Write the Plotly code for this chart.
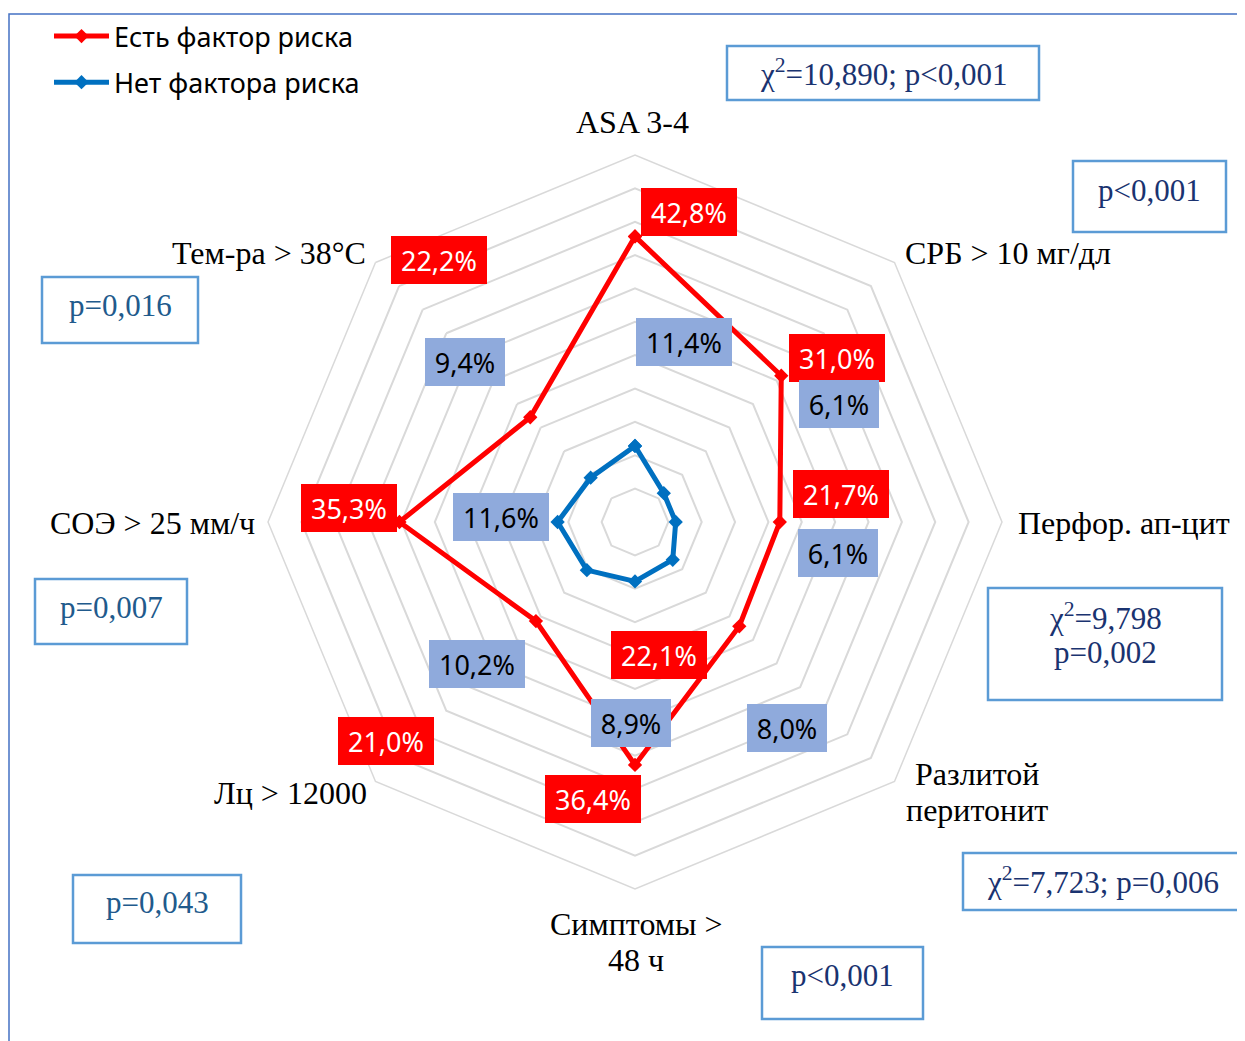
import plotly.graph_objects as go

W, H = 1245, 1041
PAGE_OFFSET = 8  # the page body margin shifts the figure by this many pixels

CATEGORIES = [
    "ASA 3-4", "СРБ > 10 мг/дл", "Перфор. ап-цит", "Разлитой перитонит",
    "Симптомы > 48 ч", "Лц > 12000", "СОЭ > 25 мм/ч", "Тем-ра > 38°С",
]
RISK_YES = [42.8, 31.0, 21.7, 22.1, 36.4, 21.0, 35.3, 22.2]
RISK_NO = [11.4, 6.1, 6.1, 8.0, 8.9, 10.2, 11.6, 9.4]
SERIES_NAMES = ["Есть фактор риска", "Нет фактора риска"]

STATS = [
    "χ<sup>2</sup>=10,890; p&lt;0,001",
    "p&lt;0,001",
    "χ<sup>2</sup>=9,798<br>p=0,002",
    "χ<sup>2</sup>=7,723; p=0,006",
    "p&lt;0,001",
    "p=0,043",
    "p=0,007",
    "p=0,016",
]

RED = "#FF0000"
BLUE = "#0070C0"
LABEL_BLUE = "#8FAADC"
GRID = "#D9D9D9"
BOX_LINE = "#5B9BD5"
NAVY = "#1A3370"
STEEL = "#215A8C"
SERIF = "Liberation Serif"
SANS = "Noto Sans"

# label placement in pixels of the target picture (centre x, centre y)
CAT_POS = [(632, 122), (1008, 253), (1124, 523), (977, 792),
           (636, 942), (290, 793), (152, 523), (269, 253)]
CAT_TEXT = ["ASA 3-4", "СРБ &gt; 10 мг/дл", "Перфор. ап-цит", "Разлитой<br>перитонит",
            "Симптомы &gt;<br>48 ч", "Лц &gt; 12000", "СОЭ &gt; 25 мм/ч", "Тем-ра &gt; 38°С"]
RED_POS = [(689, 212), (837, 358), (841, 494), (659, 655),
           (593, 799), (386, 741), (349, 508), (439, 260)]
BLUE_POS = [(684, 342), (839, 404), (838, 553), (787, 728),
            (631, 723), (477, 664), (501, 517), (465, 362)]
# stat boxes: x0, y0, x1, y1, text centre y, colour
STAT_BOX = [
    (727, 46, 1039, 100, 73, NAVY),
    (1073, 161, 1226, 232, 190, NAVY),
    (988, 588, 1222, 700, 634, NAVY),
    (963, 853, 1243, 910, 881, NAVY),
    (762, 947, 923, 1019, 975, NAVY),
    (73, 875, 241, 943, 902, STEEL),
    (35, 579, 187, 644, 607, STEEL),
    (42, 277, 198, 343, 305, STEEL),
]
LINE_STEP = 36  # spacing of wrapped text lines, px


def fx(x):
    return (x - PAGE_OFFSET) / W


def fy(y):
    return 1 - (y - PAGE_OFFSET) / H


def pct(v):
    return f"{v:.1f}".replace(".", ",") + "%"


def add_text(fig, text, x, y, font):
    # wrapped text gets one annotation per line so the line spacing can be set
    lines = text.split("<br>")
    top = y - LINE_STEP * (len(lines) - 1) / 2
    for k, line in enumerate(lines):
        fig.add_annotation(x=fx(x), y=fy(top + k * LINE_STEP), xref="paper", yref="paper",
                           text=line, xanchor="center", yanchor="middle",
                           showarrow=False, font=font)


fig = go.Figure()

for i, (name, vals, color) in enumerate(
    [(SERIES_NAMES[0], RISK_YES, RED), (SERIES_NAMES[1], RISK_NO, BLUE)]
):
    fig.add_trace(
        go.Scatterpolar(
            r=vals + vals[:1],
            theta=CATEGORIES + CATEGORIES[:1],
            mode="lines+markers",
            name=name,
            legendgroup=f"g{i}",
            line=dict(color=color, width=5),
            marker=dict(symbol="diamond", size=11, color=color),
        )
    )

cx, cy, rad = 635, 522, 367
fig.update_layout(
    width=W,
    height=H,
    margin=dict(l=0, r=0, t=0, b=0),
    paper_bgcolor="white",
    polar=dict(
        domain=dict(x=[fx(cx - rad), fx(cx + rad)], y=[fy(cy + rad), fy(cy - rad)]),
        bgcolor="white",
        gridshape="linear",
        radialaxis=dict(
            range=[0, 55], dtick=5, tick0=0, showticklabels=False, ticks="",
            showline=False, gridcolor=GRID, gridwidth=1.5,
        ),
        angularaxis=dict(
            direction="clockwise", rotation=90, showticklabels=False, ticks="",
            showgrid=False, showline=True, linecolor=GRID, linewidth=1.5,
        ),
    ),
    legend=dict(
        x=fx(49), y=fy(12), xanchor="left", yanchor="top",
        font=dict(family=SANS, size=27, color="black"),
        bgcolor="rgba(0,0,0,0)", itemwidth=55,
        traceorder="grouped", tracegroupgap=8,
    ),
)

# outer frame (right/bottom edges fall outside the picture)
fig.add_shape(type="rect", xref="paper", yref="paper",
              x0=fx(9), x1=fx(W + 30), y0=fy(H + 30), y1=fy(14),
              line=dict(color="#4472C4", width=1.5))

for text, (x, y) in zip(CAT_TEXT, CAT_POS):
    add_text(fig, text, x, y, dict(family=SERIF, size=32, color="black"))

for vals, pos, bg, fg in [(RISK_YES, RED_POS, RED, "white"), (RISK_NO, BLUE_POS, LABEL_BLUE, "black")]:
    for v, (x, y) in zip(vals, pos):
        t = pct(v)
        fig.add_annotation(x=fx(x), y=fy(y), xref="paper", yref="paper", text=t,
                           xanchor="center", yanchor="middle", showarrow=False,
                           bgcolor=bg, borderwidth=0, borderpad=0,
                           width=96 if len(t) > 4 else 80, height=48,
                           font=dict(family=SANS, size=27, color=fg))

for text, (x0, y0, x1, y1, ty, col) in zip(STATS, STAT_BOX):
    fig.add_shape(type="rect", xref="paper", yref="paper",
                  x0=fx(x0), x1=fx(x1), y0=fy(y1), y1=fy(y0),
                  line=dict(color=BOX_LINE, width=2.5), fillcolor="white")
    add_text(fig, text, (x0 + x1) / 2, ty, dict(family=SERIF, size=31, color=col))

fig.write_html("out.html")
